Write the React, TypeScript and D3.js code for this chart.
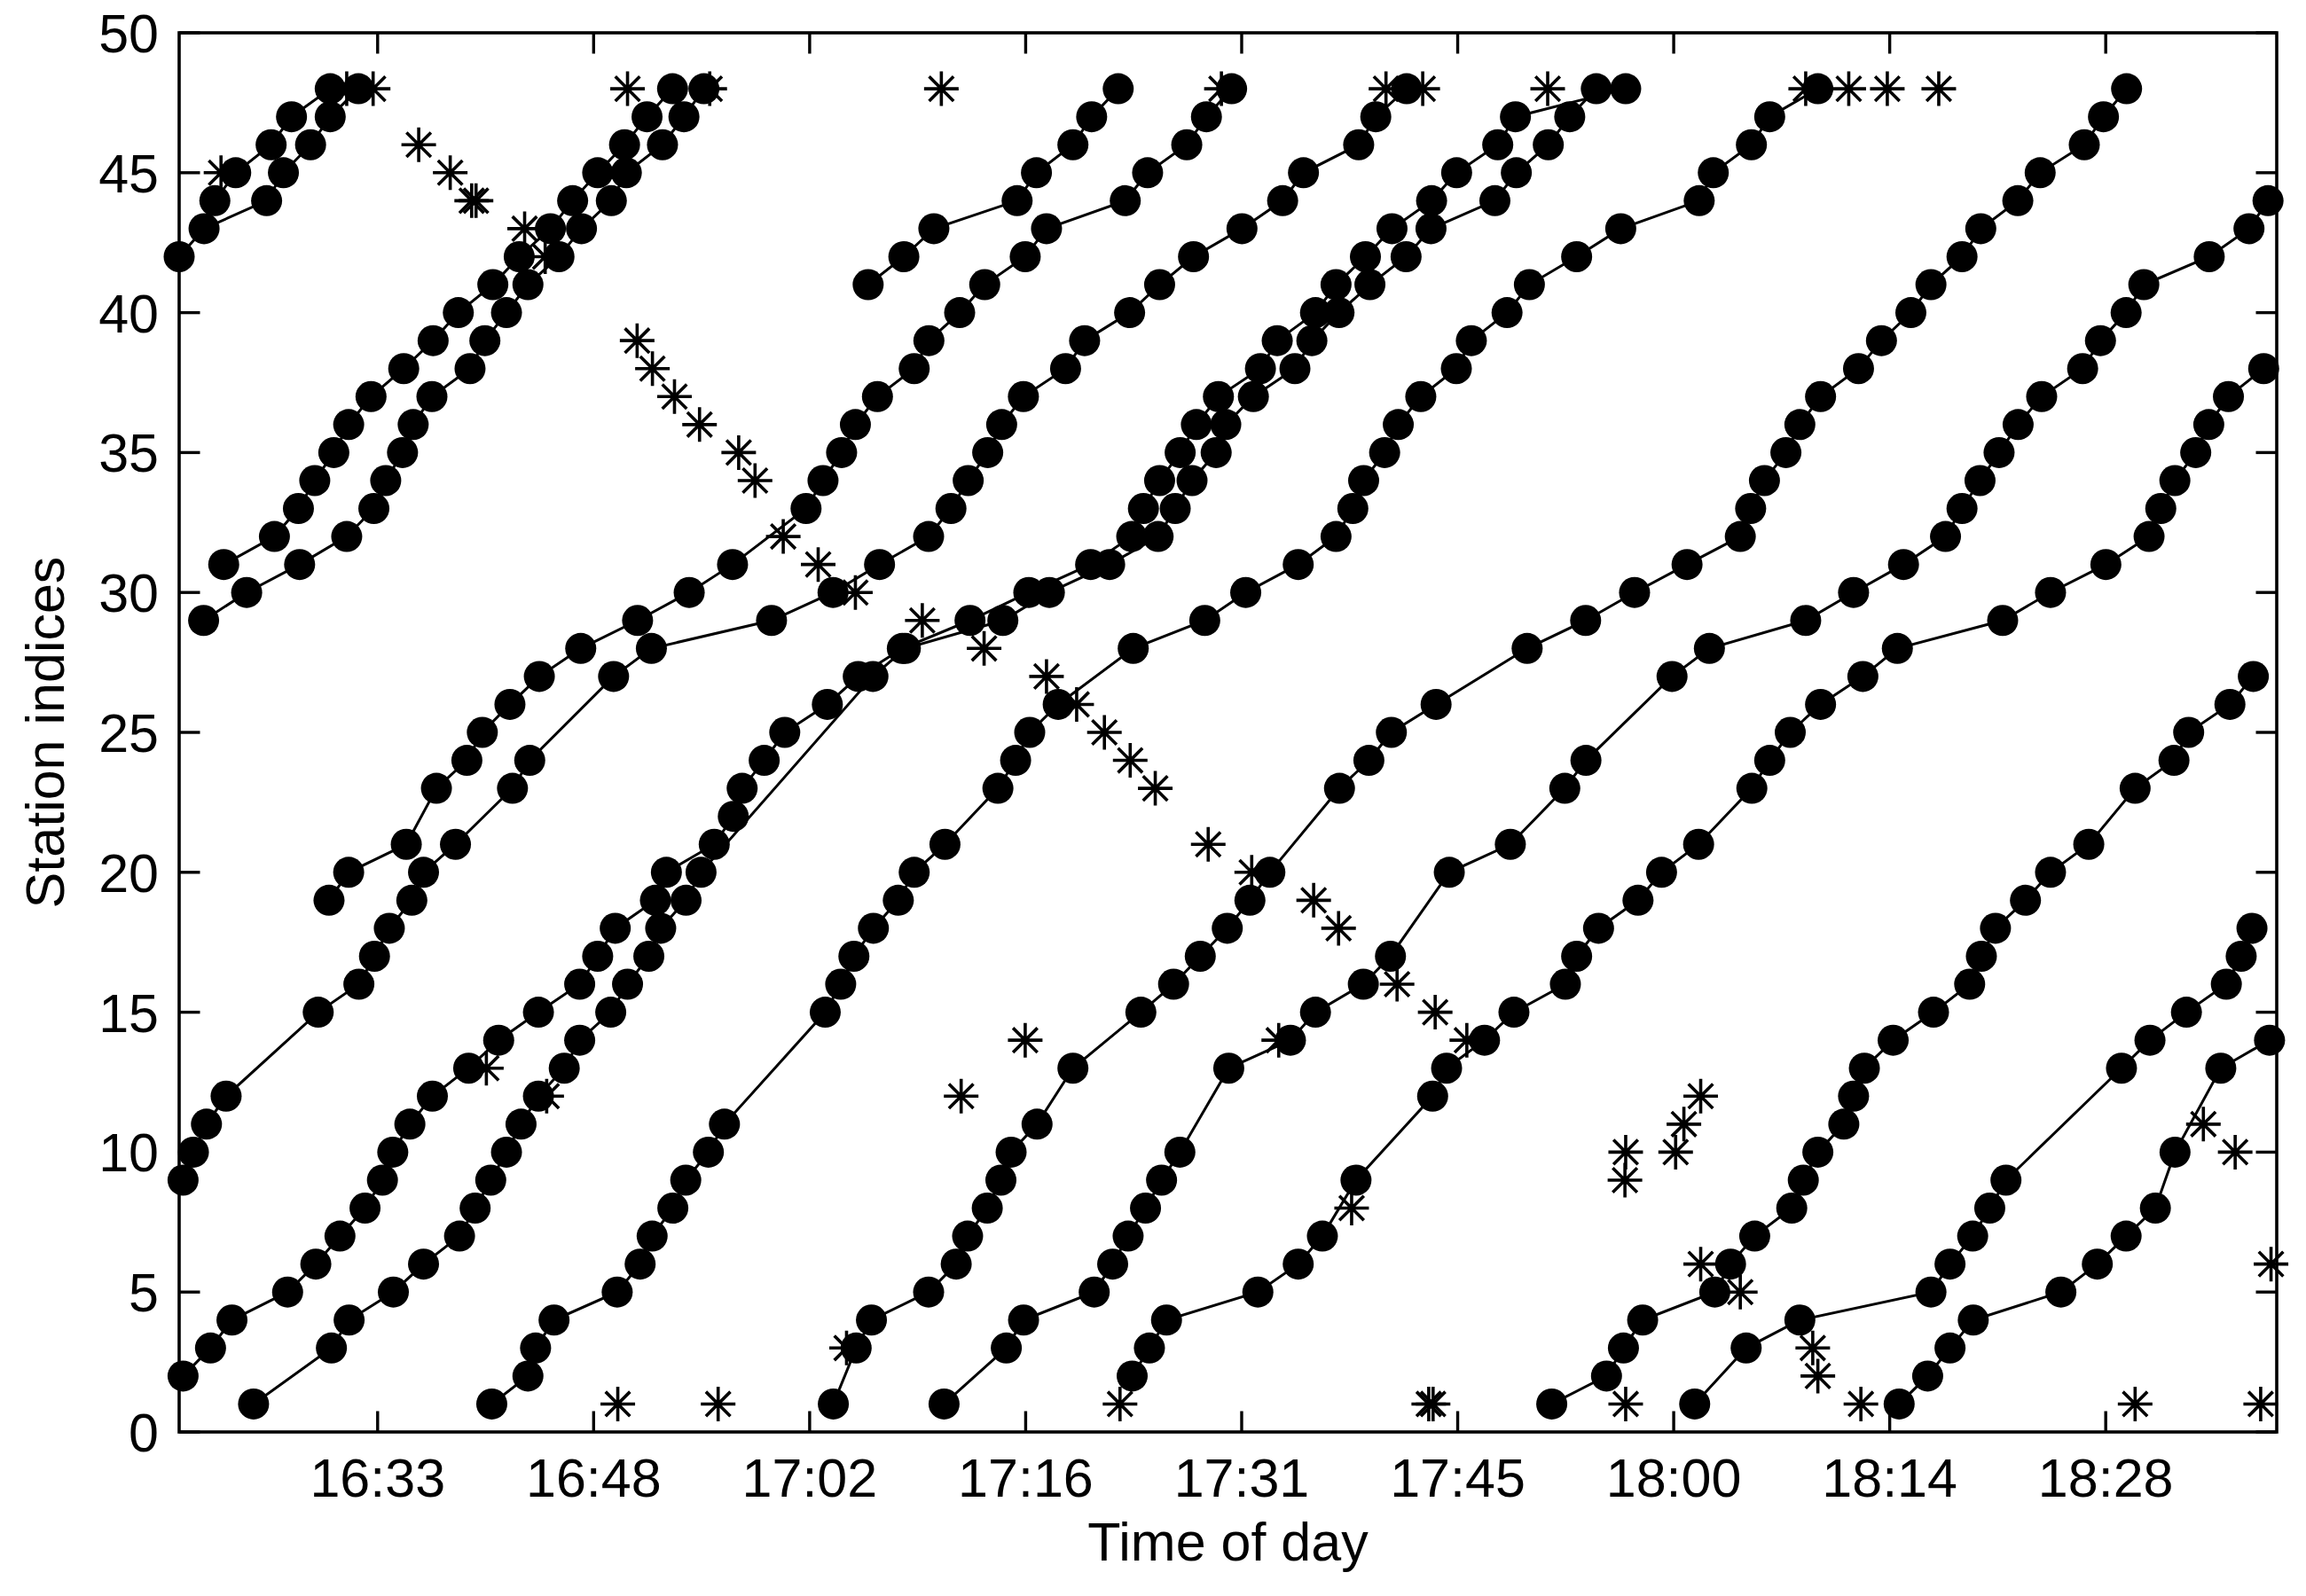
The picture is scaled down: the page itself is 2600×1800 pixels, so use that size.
import React from "react";
import * as d3 from "d3";

// Time values are minutes after 16:00; second value is the station index.
const train01 = [[20.37,42],[22.03,43],[26.20,44],[27.32,45],[29.13,46],[30.44,47],[32.32,48]];
const train02 = [[22.75,44],[24.14,45],[26.50,46],[27.86,47],[30.44,48]];
const train03 = [[23.34,31],[26.72,32],[28.32,33],[29.41,34],[30.68,35],[31.67,36],[33.16,37],[35.34,38],[37.30,39],[38.98,40],[41.28,41],[43.04,42],[45.12,43],[46.60,44],[48.27,45],[50.06,46],[51.56,47],[53.26,48]];
const train04 = [[22.00,29],[24.87,30],[28.40,31],[31.54,32],[33.35,33],[34.14,34],[35.26,35],[35.97,36],[37.22,37],[39.76,38],[40.75,39],[42.19,40],[43.62,41],[45.69,42],[47.19,43],[49.18,44],[50.18,45],[52.59,46],[54.02,47],[55.35,48]];
const train05 = [[30.36,19],[31.67,20],[35.51,21],[37.52,23],[39.55,24],[40.58,25],[42.42,26],[44.38,27],[47.14,28],[50.93,29],[54.37,30],[57.26,31],[62.16,33],[63.29,34],[64.53,35],[65.45,36],[66.92,37],[69.37,38],[70.35,39],[72.40,40],[74.07,41],[76.77,42],[78.19,43],[83.44,44],[84.93,45],[87.54,46],[88.85,47],[90.53,48]];
const train06 = [[66.30,41],[68.68,42],[70.68,43],[76.23,44],[77.52,45],[79.95,46],[81.20,47],[82.97,48]];
const train07 = [[63.98,1],[65.50,3],[66.52,4],[70.33,5],[72.17,6],[72.93,7],[74.24,8],[75.15,9],[75.83,10],[77.56,11],[79.95,13],[84.48,15],[86.66,16],[88.44,17],[90.24,18],[91.75,19],[93.08,20],[97.72,23],[99.68,24],[101.18,25],[104.16,26],[110.23,28],[114.13,29],[117.39,30],[120.89,31],[124.44,32],[125.13,33],[126.05,34],[127.48,35],[128.41,36],[129.79,37],[132.32,38],[133.85,39],[135.81,40],[137.15,41],[139.22,42],[140.47,43],[142.94,44],[144.43,45],[147.37,46],[148.65,47],[150.19,48]];
const train08 = [[20.63,9],[21.32,10],[22.19,11],[23.50,12],[29.64,15],[32.35,16],[33.39,17],[34.38,18],[35.88,19],[36.66,20],[38.79,21],[42.59,23],[43.74,24],[49.33,27],[51.85,28],[59.86,29],[63.96,30],[67.06,31],[70.33,32],[71.82,33],[72.97,34],[74.27,35],[75.20,36],[76.65,37],[79.46,38],[80.73,39],[83.73,40],[85.73,41],[87.99,42],[91.22,43],[93.93,44],[95.32,45],[99.00,46],[100.14,47],[102.20,48]];
const train09 = [[20.63,2],[22.46,3],[23.89,4],[27.60,5],[29.48,6],[31.09,7],[32.76,8],[33.92,9],[34.61,10],[35.75,11],[37.25,12],[39.67,13],[41.67,14],[44.32,15],[47.07,16],[48.27,17],[49.44,18],[52.12,19],[52.85,20],[56.04,21],[57.31,22],[57.90,23],[59.37,24],[60.74,25],[63.58,26],[65.64,27],[68.58,28],[73.09,29],[77.01,30],[81.13,31],[83.87,32],[84.65,33],[85.73,34],[87.10,35],[88.18,36],[89.65,37],[92.45,38],[93.57,39],[96.12,40],[97.49,41],[99.45,42],[101.22,43],[103.86,44],[105.53,45],[108.27,46],[109.45,47],[116.80,48]];
const train10 = [[25.33,1],[30.52,3],[31.70,4],[34.65,5],[36.66,6],[39.06,7],[40.10,8],[41.14,9],[42.19,10],[43.16,11],[44.32,12],[46.04,13],[47.07,14],[49.14,15],[50.26,16],[51.68,17],[52.47,18],[54.16,19],[55.16,20],[66.62,27],[68.78,28],[75.28,29],[78.38,30],[82.40,31],[85.63,32],[86.77,33],[87.89,34],[89.50,35],[90.14,36],[91.98,37],[94.75,38],[95.88,39],[97.69,40],[99.75,41],[102.16,42],[103.82,43],[108.08,44],[109.51,45],[111.64,46],[113.07,47],[114.84,48]];
const train11 = [[41.21,1],[43.62,2],[44.13,3],[45.36,4],[49.57,5],[51.10,6],[51.90,7],[53.28,8],[54.14,9],[55.65,10],[56.72,11],[63.44,15],[64.47,16],[65.35,17],[66.65,18],[68.31,19],[69.37,20],[71.42,21],[74.95,23],[76.13,24],[77.07,25],[78.97,26],[83.97,28],[88.74,29],[91.47,30],[94.97,31],[97.49,32],[98.61,33],[99.33,34],[100.73,35],[101.64,36],[103.14,37],[105.51,38],[106.51,39],[108.89,40],[110.38,41],[113.53,42],[116.47,43],[121.70,44],[122.64,45],[125.18,46],[126.40,47],[129.61,48]];
const train12 = [[71.36,1],[75.51,3],[76.66,4],[81.37,5],[82.60,6],[83.63,7],[84.79,8],[85.86,9],[87.08,10],[90.34,13],[94.45,14],[96.12,15],[99.31,16],[101.12,17],[105.04,20],[109.11,21],[112.74,23],[114.15,24],[119.89,27],[122.38,28],[128.80,29],[131.99,30],[135.32,31],[138.12,32],[139.22,33],[140.42,34],[141.69,35],[142.96,36],[144.53,37],[147.26,38],[148.45,39],[150.16,40],[151.34,41],[155.70,42],[158.35,43],[159.62,44]];
const train13 = [[83.90,2],[85.05,3],[86.19,4],[92.28,5],[94.97,6],[96.58,7],[98.82,9],[103.93,12],[104.86,13],[107.39,14],[109.35,15],[112.78,16],[113.53,17],[114.99,18],[117.62,19],[119.19,20],[121.66,21],[125.21,23],[126.40,24],[127.77,25],[129.79,26],[132.61,27],[134.91,28],[141.93,29],[145.12,30],[148.81,31],[151.69,32],[152.47,33],[153.41,34],[154.80,35],[155.67,36],[156.98,37],[159.33,38]];
const train14 = [[111.87,1],[115.52,2],[116.65,3],[117.93,4],[122.74,5],[123.79,6],[125.40,7],[127.87,8],[128.64,9],[129.61,10],[131.34,11],[131.99,12],[132.71,13],[134.63,14],[137.32,15],[139.73,16],[140.51,17],[141.45,18],[143.45,19],[145.12,20],[147.67,21],[150.76,23],[153.35,24],[154.33,25],[157.08,26],[158.64,27]];
const train15 = [[121.40,1],[124.83,3],[128.41,4],[137.15,5],[138.42,6],[139.93,7],[141.07,8],[142.15,9],[149.85,13],[151.75,14],[154.18,15],[156.84,16],[157.83,17],[158.55,18]];
const train16 = [[135.03,1],[136.93,2],[138.42,3],[139.97,4],[145.81,5],[148.24,6],[150.16,7],[152.11,8],[153.42,10],[156.47,13],[159.72,14]];

// Unmatched detections (asterisks)
const unmatched = [[31.54,48],[33.30,48],[23.16,45],[36.34,46],[38.44,45],[39.87,44],[40.16,44],[43.40,43],[44.77,42],[50.26,48],[55.74,48],[50.90,39],[51.92,38],[53.39,37],[55.06,36],[57.67,35],[58.76,34],[60.64,32],[62.97,31],[65.45,30],[69.91,29],[74.03,28],[78.19,27],[80.20,26],[82.05,25],[83.77,24],[85.44,23],[88.97,21],[91.87,20],[96.00,19],[97.66,18],[101.56,16],[104.10,15],[106.21,14],[93.67,14],[98.53,8],[40.85,13],[44.87,12],[49.61,1],[56.30,1],[64.86,3],[72.50,12],[76.77,14],[83.09,1],[71.18,48],[89.85,48],[100.82,48],[103.27,48],[111.60,48],[103.67,1],[103.96,1],[116.80,1],[116.80,10],[116.75,9],[120.13,10],[120.68,11],[121.80,12],[121.80,6],[124.44,5],[128.80,48],[131.67,48],[134.24,48],[137.67,48],[129.27,3],[129.61,2],[132.48,1],[150.76,1],[159.13,1],[155.31,11],[157.43,10],[159.82,6]];

const trains = [train01, train02, train03, train04, train05, train06, train07, train08, train09, train10, train11, train12, train13, train14, train15, train16];

const xDomain = [20.37, 160.2];
const yDomain = [0, 50];
const xTickValues = [33.6, 48.0, 62.4, 76.8, 91.2, 105.6, 120.0, 134.4, 148.8];
const xTickLabels = ["16:33", "16:48", "17:02", "17:16", "17:31", "17:45", "18:00", "18:14", "18:28"];
const yTickValues = [0, 5, 10, 15, 20, 25, 30, 35, 40, 45, 50];

const FONT = "'Liberation Sans', Arial, Helvetica, sans-serif";

export default function App() {
  const left = 202, right = 2567, top = 37, bottom = 1615;
  const x = d3.scaleLinear().domain(xDomain).range([left, right]);
  const y = d3.scaleLinear().domain(yDomain).range([bottom, top]);
  const line = d3.line<number[]>().x((d) => x(d[0])).y((d) => y(d[1]));
  const tickLen = 23.5;
  const r = 17.5;
  const a = 19.5;
  const dg = 13.8;
  const fs = 61;
  const star = `M${-a},0L${a},0M0,${-a}L0,${a}M${-dg},${-dg}L${dg},${dg}M${-dg},${dg}L${dg},${-dg}`;

  return (
    <svg width={2600} height={1800} style={{ position: "absolute", left: 0, top: 0, background: "#fff" }}>
      <rect x={0} y={0} width={2600} height={1800} fill="#fff" />
      <g>
        {unmatched.map((d, i) => (
          <path key={"s" + i} d={star} transform={`translate(${x(d[0])},${y(d[1])})`} stroke="#000" strokeWidth={3.6} fill="none" />
        ))}
      </g>
      <g>
        {trains.map((t, i) => (
          <path key={"l" + i} d={line(t) || ""} fill="none" stroke="#000" strokeWidth={3} />
        ))}
      </g>
      <g>
        {trains.map((t, i) =>
          t.map((d, j) => <circle key={`c${i}-${j}`} cx={x(d[0])} cy={y(d[1])} r={r} fill="#000" />)
        )}
      </g>
      <rect x={left} y={top} width={right - left} height={bottom - top} fill="none" stroke="#000" strokeWidth={3.6} />
      {xTickValues.map((v, i) => (
        <g key={"xt" + i}>
          <line x1={x(v)} x2={x(v)} y1={bottom} y2={bottom - tickLen} stroke="#000" strokeWidth={3.4} />
          <line x1={x(v)} x2={x(v)} y1={top} y2={top + tickLen} stroke="#000" strokeWidth={3.4} />
          <text x={x(v)} y={1688} textAnchor="middle" fontFamily={FONT} fontSize={fs} fill="#000">
            {xTickLabels[i]}
          </text>
        </g>
      ))}
      {yTickValues.map((v, i) => (
        <g key={"yt" + i}>
          <line x1={left} x2={left + tickLen} y1={y(v)} y2={y(v)} stroke="#000" strokeWidth={3.4} />
          <line x1={right} x2={right - tickLen} y1={y(v)} y2={y(v)} stroke="#000" strokeWidth={3.4} />
          <text x={179} y={y(v) + 22} textAnchor="end" fontFamily={FONT} fontSize={fs} fill="#000">
            {v}
          </text>
        </g>
      ))}
      <text x={(left + right) / 2} y={1760} textAnchor="middle" fontFamily={FONT} fontSize={fs} fill="#000">
        Time of day
      </text>
      <text transform={`translate(72,${(top + bottom) / 2}) rotate(-90)`} textAnchor="middle" fontFamily={FONT} fontSize={fs} fill="#000">
        Station indices
      </text>
    </svg>
  );
}
